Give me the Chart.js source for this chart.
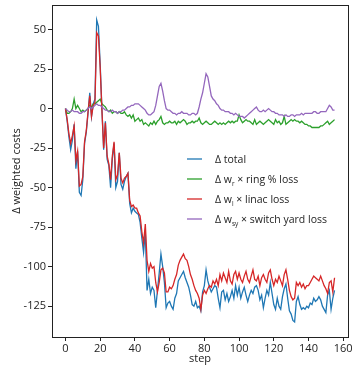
<!DOCTYPE html>
<html lang="en">
  <head>
    <meta charset="UTF-8" />
    <title>Δ weighted costs per step</title>
    <script src="https://cdn.jsdelivr.net/npm/chart.js"></script>
    <style>
      html, body { margin: 0; padding: 0; background: #fff; }
      #wrap { width: 354px; height: 366px; }
    </style>
  </head>
  <body>
    <div id="wrap"><canvas id="costChart" width="354" height="366"></canvas></div>

    <script>
      // Change in each weighted cost term over the optimisation steps
      const totalDelta = [
        0, -8, -18, -26, -20, -10, -38, -27, -53, -55,
        -45, -22, -15, -3, 10, -5, 3, 6, 56, 52,
        28, 0, -26, -8, -32, -36, -50, -32, -22, -50,
        -46, -28, -48, -51, -46, -43, -41, -60, -66, -63,
        -65, -66, -67, -72, -82, -91, -78, -115, -108, -117,
        -113, -115, -126, -115, -104, -92, -100, -110, -126, -123,
        -122, -125, -127, -120, -117, -109, -107, -105, -103, -107,
        -110, -113, -118, -124, -125, -122, -126, -125, -128, -116,
        -112, -102, -109, -113, -116, -114, -112, -113, -120, -126,
        -116, -115, -121, -117, -122, -119, -115, -120, -112, -118,
        -113, -120, -116, -113, -118, -122, -118, -115, -117, -113,
        -112, -115, -121, -118, -126, -120, -115, -118, -110, -117,
        -124, -127, -120, -125, -127, -119, -114, -111, -120, -128,
        -130, -134, -135, -122, -119, -124, -127, -126, -127, -125,
        -126, -123, -124, -120, -122, -121, -119, -121, -125, -127,
        -129, -118, -115, -127, -120, -115,
      ];

      const ringDelta = [
        0, -3, -3, -2, 0, 6, 0, 2, 0, -2,
        -1, -2, -1, 0, 2, 1, 3, 3, 4, 5,
        6, 3, 2, 1, -1, -2, -1, -3, -2, -2,
        -3, -2, -3, -3, -2, -4, -5, -4, -6, -4,
        -8, -7, -6, -8, -7, -10, -9, -10, -11, -9,
        -10, -8, -10, -8, -7, -5, -9, -10, -9, -9,
        -8, -9, -9, -8, -10, -8, -9, -8, -7, -8,
        -10, -9, -9, -8, -9, -8, -8, -6, -9, -10,
        -9, -8, -9, -10, -10, -9, -8, -9, -10, -9,
        -10, -9, -10, -9, -8, -9, -8, -9, -8, -8,
        -4, -7, -9, -8, -7, -8, -8, -9, -10, -7,
        -10, -9, -8, -9, -10, -9, -8, -7, -8, -9,
        -10, -7, -9, -8, -10, -9, -5, -10, -9, -8,
        -7, -8, -7, -8, -8, -9, -8, -9, -10, -10,
        -11, -11, -12, -12, -12, -12, -12, -11, -11, -10,
        -9, -8, -10, -9, -8, -7,
      ];

      const linacDelta = [
        0, -7, -16, -22, -17, -11, -33, -27, -49, -48,
        -43, -21, -14, -2, 8, -5, 2, 4, 48, 46,
        26, -1, -25, -9, -30, -35, -45, -30, -21, -45,
        -42, -28, -44, -47, -44, -43, -41, -58, -62, -61,
        -63, -63, -66, -68, -78, -85, -73, -96, -103, -98,
        -101, -100, -110, -116, -110, -102, -101, -104, -116, -116,
        -113, -114, -112, -108, -105, -99, -96, -94, -92, -95,
        -96, -100, -105, -108, -112, -115, -117, -120, -127, -118,
        -115, -117, -114, -112, -113, -109, -111, -108, -112, -105,
        -109, -104, -107, -110, -103, -109, -111, -105, -103, -108,
        -104, -108, -110, -106, -103, -108, -110, -106, -102, -108,
        -109, -106, -112, -107, -105, -108, -110, -104, -102, -108,
        -112, -108, -110, -106, -109, -112, -105, -102, -108, -115,
        -119, -121, -120, -110, -112, -110, -113, -111, -114, -112,
        -112, -110, -108, -106, -107, -108, -109, -106, -109, -112,
        -114, -117, -110, -109, -116, -107,
      ];

      const switchYardDelta = [
        0, -1, -2, -2, -1, -2, -2, -2, -3, -3,
        -2, -2, -1, 0, 1, 0, 1, 2, 3, 2,
        2, 1, 0, -1, -1, -2, -2, -1, -2, -2,
        -3, -2, -2, -1, -1, 0, 1, 1, 2, 2,
        3, 3, 3, 2, 1, 0, -1, -3, -4, -4,
        -3, -2, 2, 8, 14, 16, 11, 5, 0, -1,
        -1, -2, -3, -3, -4, -3, -3, -2, -3, -3,
        -3, -4, -4, -3, -3, -4, -3, 1, 6, 10,
        16, 22, 20, 14, 8, 6, 5, 3, 2, 0,
        -1, -1, -2, -2, -2, -3, -3, -4, -3, -4,
        -5, -5, -5, -6, -5, -4, -3, -2, -1, 0,
        1, -1, -2, -2, -1, -2, -1, 0, -1, -2,
        -2, -3, -3, -4, -4, -4, -5, -4, -5, -5,
        -4, -4, -5, -4, -4, -4, -3, -4, -3, -3,
        -3, -3, -3, -2, -2, -3, -3, -2, -2, -2,
        -2, 0, 2, 1, -1, -1,
      ];

      const steps = totalDelta.map((_, i) => i);

      const xTicks = [0, 20, 40, 60, 80, 100, 120, 140, 160];
      const yTicks = [-125, -100, -75, -50, -25, 0, 25, 50];

      const FONT = "'Open Sans', 'Noto Sans', sans-serif";
      const INK = "#222";

      // legend rows; second entry of each part marks a subscript
      const legendRows = [
        { color: "#1f77b4", parts: [["Δ total", false]] },
        { color: "#2ca02c", parts: [["Δ w", false], ["r", true], [" × ring % loss", false]] },
        { color: "#d62728", parts: [["Δ w", false], ["l", true], [" × linac loss", false]] },
        { color: "#9467bd", parts: [["Δ w", false], ["sy", true], [" × switch yard loss", false]] },
      ];

      const toPoints = (arr) => arr.map((v, i) => ({ x: steps[i], y: v }));

      function series(data, color, order) {
        return {
          data: toPoints(data),
          borderColor: color,
          borderWidth: 1.3,
          pointRadius: 0,
          tension: 0,
          fill: false,
          order,
        };
      }

      // box round the plot area (matplotlib-style spines)
      const frame = {
        id: "frame",
        afterDraw(chart) {
          const { ctx, chartArea: a } = chart;
          ctx.save();
          ctx.strokeStyle = INK;
          ctx.lineWidth = 1;
          ctx.strokeRect(Math.round(a.left) + 0.5, Math.round(a.top) + 0.5,
            Math.round(a.right - a.left), Math.round(a.bottom - a.top));
          ctx.restore();
        },
      };

      // legend with subscripts, drawn inside the plot
      const subLegend = {
        id: "subLegend",
        afterDraw(chart) {
          const ctx = chart.ctx;
          ctx.save();
          legendRows.forEach((row, i) => {
            const y = 159 + 20 * i;
            ctx.strokeStyle = row.color;
            ctx.lineWidth = 1.3;
            ctx.beginPath();
            ctx.moveTo(187, y);
            ctx.lineTo(202, y);
            ctx.stroke();

            let x = 215;
            ctx.fillStyle = INK;
            ctx.textBaseline = "alphabetic";
            ctx.textAlign = "left";
            row.parts.forEach(([txt, sub]) => {
              ctx.font = (sub ? "6.5px " : "10.5px ") + FONT;
              ctx.fillText(txt, x, sub ? y + 6.5 : y + 4);
              x += ctx.measureText(txt).width;
            });
          });
          ctx.restore();
        },
      };

      const ctx = document.getElementById("costChart").getContext("2d");
      new Chart(ctx, {
        type: "line",
        data: {
          datasets: [
            series(totalDelta, "#1f77b4", 4),
            series(ringDelta, "#2ca02c", 3),
            series(linacDelta, "#d62728", 2),
            series(switchYardDelta, "#9467bd", 1),
          ],
        },
        options: {
          responsive: false,
          animation: false,
          layout: { padding: { top: 5, right: 6, left: 0, bottom: 0 } },
          plugins: { legend: { display: false }, tooltip: { enabled: false } },
          scales: {
            x: {
              type: "linear",
              min: -7.75,
              max: 162.75,
              afterBuildTicks: (s) => { s.ticks = xTicks.map((v) => ({ value: v })); },
              afterFit: (s) => { s.height = 29; s.paddingLeft = 0; s.paddingRight = 0; },
              grid: { drawOnChartArea: false, drawTicks: true, tickLength: 4, tickColor: INK },
              border: { display: false },
              ticks: { color: INK, font: { family: FONT, size: 11 }, padding: 1, maxRotation: 0, autoSkip: false },
              title: { display: true, text: "step", color: INK, font: { family: FONT, size: 11 }, padding: { top: 0, bottom: 1 } },
            },
            y: {
              min: -144.5,
              max: 65.5,
              afterBuildTicks: (s) => { s.ticks = yTicks.map((v) => ({ value: v })); },
              afterFit: (s) => { s.width = 52; s.paddingTop = 0; s.paddingBottom = 0; },
              grid: { drawOnChartArea: false, drawTicks: true, tickLength: 4, tickColor: INK },
              border: { display: false },
              ticks: { color: INK, font: { family: FONT, size: 11 }, padding: 2, autoSkip: false },
              title: { display: true, text: "Δ weighted costs", color: INK, font: { family: FONT, size: 11 }, padding: { top: 10, bottom: 0 } },
            },
          },
        },
        plugins: [frame, subLegend],
      });
    </script>
  </body>
</html>
